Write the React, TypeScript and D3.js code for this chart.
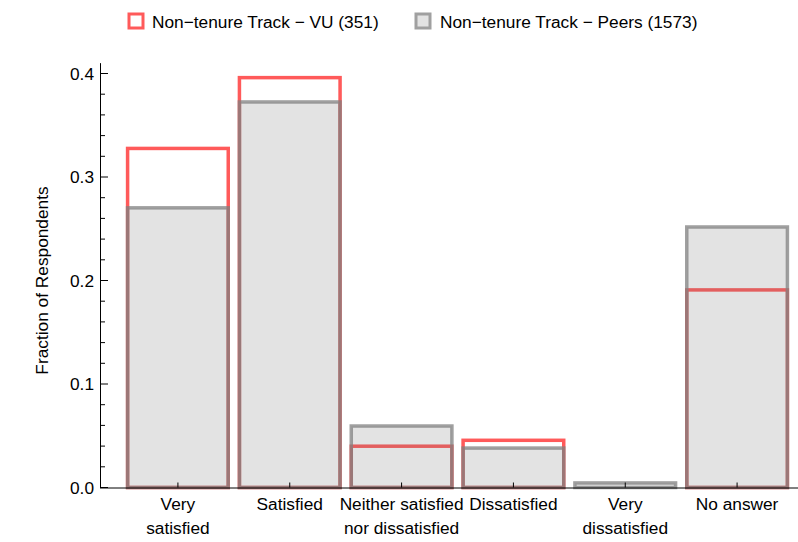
import React from "react";
import * as d3 from "d3";

const categories = ["Very\nsatisfied", "Satisfied", "Neither satisfied\nnor dissatisfied", "Dissatisfied", "Very\ndissatisfied", "No answer"];
const vuValues = [0.3276, 0.396, 0.0399, 0.0456, 0.0, 0.1909];
const peerValues = [0.2702, 0.3725, 0.0594, 0.0381, 0.0044, 0.2517];
const seriesNames = ["Non\u2212tenure Track \u2212 VU (351)", "Non\u2212tenure Track \u2212 Peers (1573)"];
const majorTicks = [0, 0.1, 0.2, 0.3, 0.4];
const yLabel = "Fraction of Respondents";

const W = 798, H = 542;
const FONT = "'Liberation Sans', Arial, sans-serif";
const FS = 17.3;

export default function App() {
  const y = d3.scaleLinear().domain([0, 0.4]).range([487.5, 73.5]);
  const x = d3.scaleBand<number>().domain(d3.range(categories.length)).range([122, 793]).paddingInner(0.1).paddingOuter(0.05);
  const axisX = 100;
  const y0 = y(0);
  const minor = d3.range(0, 0.41, 0.02).filter(v => !majorTicks.some(m => Math.abs(m - v) < 1e-6));
  const red = "#ff5a5a";
  const grayStroke = "rgba(128,128,128,0.75)";
  const grayFill = "rgba(115,115,115,0.2)";
  const sw = 3.5;
  return (
    <svg width={W} height={H} style={{ position: "absolute", left: 0, top: 0, background: "#fff" }} fontFamily={FONT}>
      {vuValues.map((v, i) => (
        <rect key={"r" + i} x={x(i)!} y={y(v)} width={x.bandwidth()} height={y0 - y(v)} fill="#fff" stroke={red} strokeWidth={sw} />
      ))}
      {peerValues.map((v, i) => (
        <rect key={"g" + i} x={x(i)!} y={y(v)} width={x.bandwidth()} height={y0 - y(v)} fill={grayFill} stroke={grayStroke} strokeWidth={sw} />
      ))}
      <line x1={axisX} x2={W} y1={y0 + 0.5} y2={y0 + 0.5} stroke="#000" strokeWidth={1} />
      <line x1={axisX + 0.5} x2={axisX + 0.5} y1={y(0.41)} y2={y0 + 0.5} stroke="#000" strokeWidth={1} />
      {majorTicks.map(t => (
        <g key={"t" + t}>
          <line x1={axisX} x2={axisX + 8} y1={y(t)} y2={y(t)} stroke="#000" strokeWidth={1} />
          <text x={axisX - 6} y={y(t)} dy="0.35em" textAnchor="end" fontSize={FS}>{t.toFixed(1)}</text>
        </g>
      ))}
      {minor.map(t => (
        <line key={"m" + t} x1={axisX} x2={axisX + 5} y1={y(t)} y2={y(t)} stroke="#000" strokeWidth={1} />
      ))}
      {categories.map((c, i) => {
        const cx = x(i)! + x.bandwidth() / 2;
        return (
          <g key={"c" + i}>
            <line x1={cx} x2={cx} y1={y0} y2={y0 - 5} stroke="#000" strokeWidth={1} />
            {c.split("\n").map((line, j) => (
              <text key={j} x={cx} y={510 + j * 24} textAnchor="middle" fontSize={FS}>{line}</text>
            ))}
          </g>
        );
      })}
      <text transform={`translate(48,${y(0.2)}) rotate(-90)`} textAnchor="middle" fontSize={FS}>{yLabel}</text>
      <rect x={129} y={14} width={14} height={14} fill="#fff" stroke={red} strokeWidth={3} />
      <text x={152} y={28} fontSize={FS}>{seriesNames[0]}</text>
      <rect x={416} y={14} width={14} height={14} fill="#e3e3e3" stroke="#a0a0a0" strokeWidth={3} />
      <text x={440} y={28} fontSize={FS}>{seriesNames[1]}</text>
    </svg>
  );
}
